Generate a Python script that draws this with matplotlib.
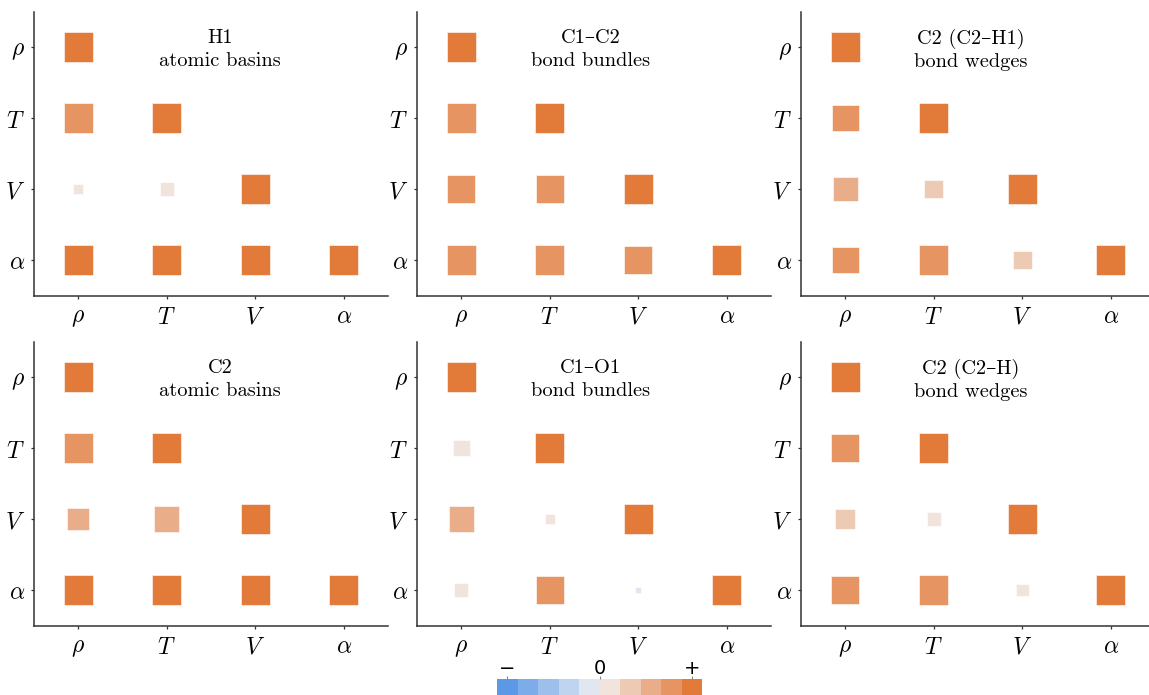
import matplotlib
matplotlib.use("Agg")
import matplotlib.pyplot as plt
import seaborn as sns
import numpy as np

# lower-triangle correlation values, rows/cols ordered rho, T, V, alpha
props = [r'$\rho$', r'$T$', r'$V$', r'$\alpha$']

h1_basins = [[1.00],
             [0.98, 1.00],
             [0.12, 0.21, 1.00],
             [1.00, 1.00, 1.00, 1.00]]
c1c2_bundles = [[1.00],
                [0.98, 1.00],
                [0.93, 0.91, 1.00],
                [0.99, 0.99, 0.93, 1.00]]
c2h1_wedges = [[1.00],
               [0.83, 1.00],
               [0.71, 0.41, 1.00],
               [0.81, 0.98, 0.40, 1.00]]
c2_basins = [[1.00],
             [0.98, 1.00],
             [0.57, 0.73, 1.00],
             [1.00, 1.00, 1.00, 1.00]]
c1o1_bundles = [[1.00],
                [0.32, 1.00],
                [0.73, 0.12, 1.00],
                [0.24, 0.93, -0.04, 1.00]]
c2h_wedges = [[1.00],
              [0.93, 1.00],
              [0.45, 0.24, 1.00],
              [0.89, 0.98, 0.18, 1.00]]

panels = [h1_basins, c1c2_bundles, c2h1_wedges,
          c2_basins, c1o1_bundles, c2h_wedges]
titles = ['H1\natomic basins', 'C1\u2013C2\nbond bundles', 'C2 (C2\u2013H1)\nbond wedges',
          'C2\natomic basins', 'C1\u2013O1\nbond bundles', 'C2 (C2\u2013H)\nbond wedges']

n_colors = 10
# blue half a bit less saturated than the orange half
palette = (sns.diverging_palette(250, 30, s=76, l=62, n=n_colors)[:5]
           + sns.diverging_palette(250, 30, s=85, l=62, n=n_colors)[5:])


def value_to_color(v):
    ind = int((v + 1) / 2 * (n_colors - 1))
    return palette[ind]


plt.rcParams['mathtext.fontset'] = 'cm'
plt.rcParams['axes.unicode_minus'] = False

W, H = 1149, 695
fig = plt.figure(figsize=(W / 100, H / 100), dpi=100)

col_left = [34, 417, 801]
row_top = [11.5, 341.5]
ax_w, ax_h = 354, 284
title_x = [0.525, 0.49, 0.48]
spine_col = '#333333'

for k, data in enumerate(panels):
    r, c = divmod(k, 3)
    ax = fig.add_axes([col_left[c] / W, 1 - (row_top[r] + ax_h) / H, ax_w / W, ax_h / H])

    xs, ys, vals = [], [], []
    for i, row in enumerate(data):
        for j, v in enumerate(row):
            xs.append(j)
            ys.append(i)
            vals.append(v)
    vals = np.array(vals)
    ax.scatter(xs, ys, s=np.abs(vals) * 451, marker='s',
               c=[value_to_color(v) for v in vals],
               edgecolors='white', linewidths=0.4, zorder=3)

    ax.set_xlim(-0.5, 3.5)
    ax.set_ylim(3.5, -0.5)
    ax.set_xticks(range(4))
    ax.set_yticks(range(4))
    ax.set_xticklabels(props, fontsize=17)
    ax.set_yticklabels(props, fontsize=17)
    for s in ['top', 'right']:
        ax.spines[s].set_visible(False)
    for s in ['left', 'bottom']:
        ax.spines[s].set_color(spine_col)
        ax.spines[s].set_linewidth(1.1)
    ax.tick_params(length=2.5, width=0.9, color=spine_col, pad=4)

    ax.text(title_x[c], 0.865, titles[k], transform=ax.transAxes,
            ha='center', va='center', fontsize=14.7, linespacing=1.35,
            family=['cmr10', 'DejaVu Serif'])

# colour legend bar
cax = fig.add_axes([497 / W, 0, 205 / W, 16 / H])
bar_x = np.linspace(-1, 1, n_colors)
bar_w = bar_x[1] - bar_x[0]
cax.bar(bar_x, [1] * n_colors, width=bar_w, color=palette, linewidth=0)
cax.set_xlim(-1 - bar_w / 2, 1 + bar_w / 2)
cax.set_ylim(0, 1)
cax.set_yticks([])
cax.set_xticks([-1, 0, 1])
cax.set_xticklabels(['\u2212', '0', '+'], fontsize=14)
cax.xaxis.tick_top()
cax.tick_params(axis='x', length=2.5, width=0.8, color='#888888', pad=-2)
for s in cax.spines.values():
    s.set_visible(False)

plt.savefig('out.png', dpi=100)
plt.close()
